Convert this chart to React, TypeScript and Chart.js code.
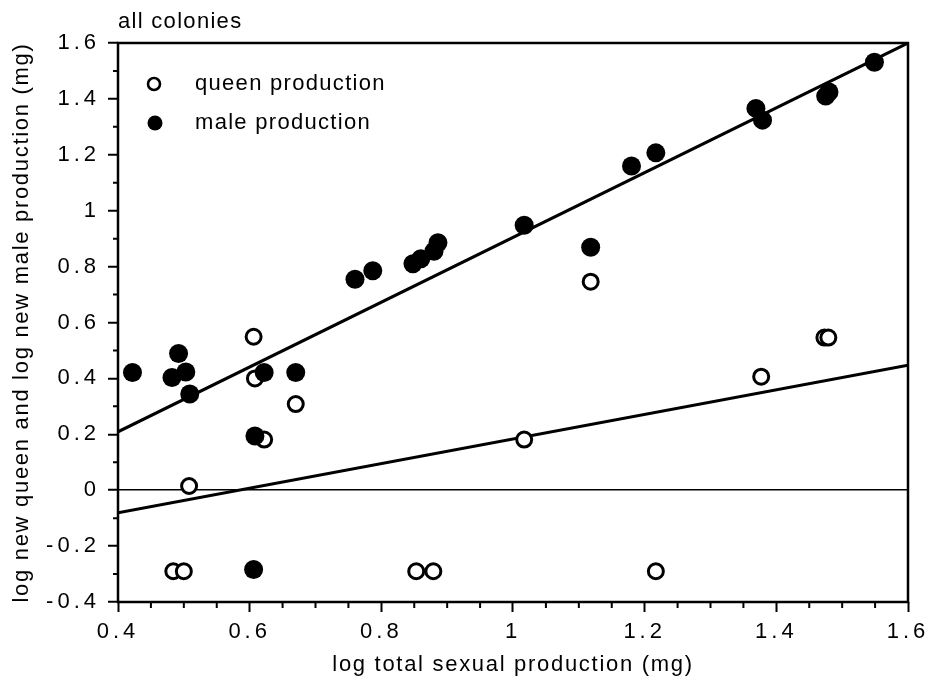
import { useEffect, useRef } from "react";
import { Chart, registerables } from "chart.js";

Chart.register(...registerables);

// Axis ranges and labelled ticks
const xRange = [0.4, 1.6];
const yRange = [-0.4, 1.6];
const xMajorStep = 0.2;
const xMinorStep = 0.05;
const yMajorStep = 0.2;
const yMinorStep = 0.1;

// log total sexual production (mg) vs log new queen production (mg)
const queenX = [0.606, 0.608, 0.622, 0.670, 0.508, 0.484, 0.500, 0.853, 0.879, 1.217, 1.017, 1.118, 1.377, 1.473, 1.479];
const queenY = [0.549, 0.400, 0.181, 0.308, 0.015, -0.29, -0.29, -0.29, -0.29, -0.29, 0.181, 0.746, 0.406, 0.546, 0.546];

// log total sexual production (mg) vs log new male production (mg)
const maleX = [0.422, 0.492, 0.482, 0.503, 0.509, 0.622, 0.670, 0.608, 0.606, 0.760, 0.787, 0.848, 0.860, 0.880, 0.886, 1.017, 1.118, 1.180, 1.217, 1.369, 1.379, 1.475, 1.480, 1.549];
const maleY = [0.421, 0.489, 0.403, 0.423, 0.344, 0.421, 0.421, 0.194, -0.284, 0.755, 0.785, 0.810, 0.828, 0.855, 0.885, 0.948, 0.869, 1.160, 1.207, 1.366, 1.324, 1.410, 1.425, 1.531];

// Fitted regression lines (end points at the axis limits)
const maleFitX = [0.4, 1.6];
const maleFitY = [0.209, 1.6];
const queenFitX = [0.4, 1.6];
const queenFitY = [-0.081, 0.447];

const titleText = "all colonies";
const xTitle = "log total sexual production (mg)";
const yTitle = "log new queen and log new male production (mg)";
const legendQueen = "queen production";
const legendMale = "male production";

const FONT = "'Liberation Sans', Arial, Helvetica, sans-serif";
const TICK_SPACING = "4px";
const TEXT_SPACING = "1.3px";
const AXIS_TITLE_SPACING = "1.7px";

const pts = (xs: number[], ys: number[]) => xs.map((x, i) => ({ x, y: ys[i] }));
const fmt = (v: number) => {
  const r = Math.round(v * 10) / 10;
  return String(r === 0 ? 0 : r);
};
const isMajor = (v: number, step: number, base: number) => {
  const k = (v - base) / step;
  return Math.abs(k - Math.round(k)) < 1e-6;
};

const decorPlugin = {
  id: "decor",
  beforeDraw(chart: any) {
    chart.ctx.letterSpacing = TICK_SPACING;
  },
  afterDraw(chart: any) {
    const ctx = chart.ctx as CanvasRenderingContext2D & { letterSpacing: string };
    const a = chart.chartArea;
    const xs = chart.scales.x;
    const ys = chart.scales.y;
    ctx.save();
    ctx.letterSpacing = "0px";

    // frame
    ctx.strokeStyle = "#000";
    ctx.lineWidth = 2.5;
    ctx.strokeRect(a.left, a.top, a.right - a.left, a.bottom - a.top);

    // minor tick marks
    ctx.lineWidth = 2;
    ctx.beginPath();
    for (let v = xRange[0] + xMinorStep; v < xRange[1] - 1e-9; v += xMinorStep) {
      if (isMajor(v, xMajorStep, xRange[0])) continue;
      const px = xs.getPixelForValue(v);
      ctx.moveTo(px, a.bottom);
      ctx.lineTo(px, a.bottom + 6);
    }
    for (let v = yRange[0] + yMinorStep; v < yRange[1] - 1e-9; v += yMinorStep) {
      if (isMajor(v, yMajorStep, yRange[0])) continue;
      const py = ys.getPixelForValue(v);
      ctx.moveTo(a.left, py);
      ctx.lineTo(a.left - 5, py);
    }
    ctx.stroke();

    ctx.fillStyle = "#000";
    ctx.letterSpacing = TEXT_SPACING;
    ctx.font = `22px ${FONT}`;

    // panel title
    ctx.textAlign = "left";
    ctx.textBaseline = "alphabetic";
    ctx.fillText(titleText, 118, 28);

    // axis titles
    ctx.letterSpacing = AXIS_TITLE_SPACING;
    ctx.textAlign = "center";
    ctx.textBaseline = "middle";
    ctx.fillText(xTitle, (a.left + a.right) / 2, 665);
    ctx.save();
    ctx.translate(22, (a.top + a.bottom) / 2);
    ctx.rotate(-Math.PI / 2);
    ctx.fillText(yTitle, 0, 0);
    ctx.restore();

    // legend
    ctx.letterSpacing = TEXT_SPACING;
    ctx.textAlign = "left";
    ctx.beginPath();
    ctx.arc(154, 84, 6, 0, Math.PI * 2);
    ctx.fillStyle = "#fff";
    ctx.fill();
    ctx.lineWidth = 2.6;
    ctx.strokeStyle = "#000";
    ctx.stroke();
    ctx.beginPath();
    ctx.arc(155, 123, 7.5, 0, Math.PI * 2);
    ctx.fillStyle = "#000";
    ctx.fill();
    ctx.fillText(legendQueen, 195, 84);
    ctx.fillText(legendMale, 195, 123);

    ctx.restore();
    ctx.letterSpacing = "0px";
  },
};

export default function App() {
  const ref = useRef<HTMLCanvasElement | null>(null);

  useEffect(() => {
    const canvas = ref.current;
    if (!canvas) return;
    const chart = new Chart(canvas, {
      type: "scatter",
      data: {
        datasets: [
          {
            label: legendMale,
            data: pts(maleX, maleY),
            pointStyle: "circle",
            pointRadius: 9.5,
            pointBorderWidth: 0,
            pointBackgroundColor: "#000",
            pointBorderColor: "#000",
          },
          {
            label: legendQueen,
            data: pts(queenX, queenY),
            pointStyle: "circle",
            pointRadius: 7.5,
            pointBorderWidth: 3,
            pointBackgroundColor: "#fff",
            pointBorderColor: "#000",
          },
          {
            label: "queen fit",
            data: pts(queenFitX, queenFitY),
            showLine: true,
            borderColor: "#000",
            borderWidth: 3,
            pointRadius: 0,
          },
          {
            label: "male fit",
            data: pts(maleFitX, maleFitY),
            showLine: true,
            borderColor: "#000",
            borderWidth: 3,
            pointRadius: 0,
          },
        ],
      },
      options: {
        animation: false,
        responsive: false,
        events: [],
        layout: { padding: { left: 0, top: 43, right: 24, bottom: 0 } },
        plugins: {
          legend: { display: false },
          tooltip: { enabled: false },
          title: { display: false },
        },
        scales: {
          x: {
            type: "linear",
            min: xRange[0],
            max: xRange[1],
            border: { display: false },
            grid: {
              display: true,
              drawOnChartArea: false,
              drawTicks: true,
              tickLength: 10,
              tickColor: "#000",
              tickWidth: 2,
            },
            ticks: {
              stepSize: xMajorStep,
              color: "#000",
              padding: 7,
              maxRotation: 0,
              font: { family: FONT, size: 22 },
              callback: (v: any) => fmt(Number(v)),
            },
            afterFit: (s: any) => {
              s.height = 82;
            },
          },
          y: {
            type: "linear",
            min: yRange[0],
            max: yRange[1],
            border: { display: false },
            grid: {
              display: true,
              drawOnChartArea: true,
              color: (c: any) => (c.tick && Math.abs(c.tick.value) < 1e-9 ? "#000" : "rgba(0,0,0,0)"),
              lineWidth: 1.5,
              drawTicks: true,
              tickLength: 10,
              tickColor: "#000",
              tickWidth: 2,
            },
            ticks: {
              stepSize: yMajorStep,
              color: "#000",
              padding: 8,
              font: { family: FONT, size: 22 },
              callback: (v: any) => fmt(Number(v)),
            },
            afterFit: (s: any) => {
              s.width = 118;
            },
          },
        },
      },
      plugins: [decorPlugin],
    });
    return () => chart.destroy();
  }, []);

  return (
    <div style={{ position: "fixed", left: 0, top: 0, width: 932, height: 684, background: "#fff" }}>
      <canvas ref={ref} width={932} height={684} style={{ display: "block" }} />
    </div>
  );
}
